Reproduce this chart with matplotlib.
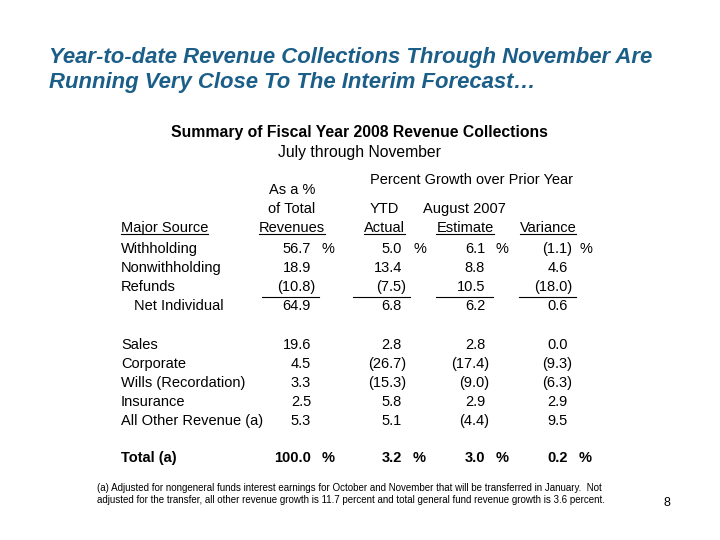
import matplotlib
matplotlib.use("Agg")
import matplotlib.pyplot as plt

plt.rcParams['font.family'] = ['Liberation Sans', 'DejaVu Sans']

# table data
sources = ['Withholding', 'Nonwithholding', 'Refunds', 'Net Individual',
           'Sales', 'Corporate', 'Wills (Recordation)', 'Insurance',
           'All Other Revenue (a)', 'Total (a)']
pct_of_total = [56.7, 18.9, -10.8, 64.9, 19.6, 4.5, 3.3, 2.5, 5.3, 100.0]
ytd_actual = [5.0, 13.4, -7.5, 6.8, 2.8, -26.7, -15.3, 5.8, 5.1, 3.2]
aug_estimate = [6.1, 8.8, 10.5, 6.2, 2.8, -17.4, -9.0, 2.9, -4.4, 3.0]
variance = [-1.1, 4.6, -18.0, 0.6, 0.0, -9.3, -6.3, 2.9, 9.5, 0.2]

title = ("Year-to-date Revenue Collections Through November Are\n"
         "Running Very Close To The Interim Forecast\u2026")
footnote = ("(a) Adjusted for nongeneral funds interest earnings for October and November that will be transferred in January.  Not\n"
            "adjusted for the transfer, all other revenue growth is 11.7 percent and total general fund revenue growth is 3.6 percent.")

fig = plt.figure(figsize=(7.2, 5.4), dpi=100)
ax = fig.add_axes([0, 0, 1, 1])
ax.set_xlim(0, 720)
ax.set_ylim(540, 0)
ax.axis('off')

fs = 10.5
ax.text(49, 70, title, fontsize=15.9, fontweight='bold',
        fontstyle='italic', color='#1b5e88', va='center', ha='left',
        linespacing=1.27)
ax.text(359, 133, 'Summary of Fiscal Year 2008 Revenue Collections',
        fontsize=11.3, fontweight='bold', ha='center', va='center')
ax.text(359, 153, 'July through November', fontsize=11.3, ha='center', va='center')

# headers
ax.text(472, 180, 'Percent Growth over Prior Year', fontsize=fs, ha='center', va='center')
ax.text(292, 190, 'As a %', fontsize=fs, ha='center', va='center')
ax.text(292, 209, 'of Total', fontsize=fs, ha='center', va='center')
ax.text(384, 209, 'YTD', fontsize=fs, ha='center', va='center')
ax.text(464, 209, 'August 2007', fontsize=fs, ha='center', va='center')
underlined = [
    ax.text(121, 228, 'Major Source', fontsize=fs, ha='left', va='center'),
    ax.text(292, 228, 'Revenues', fontsize=fs, ha='center', va='center'),
    ax.text(384, 228, 'Actual', fontsize=fs, ha='center', va='center'),
    ax.text(465, 228, 'Estimate', fontsize=fs, ha='center', va='center'),
    ax.text(548, 228, 'Variance', fontsize=fs, ha='center', va='center'),
]

# rows
row_y = []
y = 249
for i in range(len(sources)):
    row_y.append(y)
    if i == 3:
        y += 39
    elif i == 8:
        y += 37
    else:
        y += 19

columns = [pct_of_total, ytd_actual, aug_estimate, variance]
col_right = [311, 402, 485, 568]
pct_rows = [0, len(sources) - 1]


def fmt(v):
    return '(%.1f)' % abs(v) if v < 0 else '%.1f' % v


for i, name in enumerate(sources):
    bold = 'bold' if i == len(sources) - 1 else 'normal'
    x0 = 134 if name == 'Net Individual' else 121
    ax.text(x0, row_y[i], name, fontsize=fs, fontweight=bold, ha='left', va='center')
    for col, r in zip(columns, col_right):
        v = col[i]
        xr = r + 4 if v < 0 else r
        ax.text(xr, row_y[i], fmt(v), fontsize=fs, fontweight=bold,
                ha='right', va='center')
        if i in pct_rows:
            ax.text(r + 11, row_y[i], '%', fontsize=fs, fontweight=bold,
                    ha='left', va='center')

# subtotal rules under Refunds
for r in col_right:
    ax.plot([r - 49, r + 8], [row_y[2] + 10, row_y[2] + 10], color='black', lw=0.8)

# underline header labels
fig.canvas.draw()
renderer = fig.canvas.get_renderer()
inv = ax.transData.inverted()
for t in underlined:
    bb = t.get_window_extent(renderer)
    (xa, ya), (xb, yb) = inv.transform([[bb.x0, bb.y0], [bb.x1, bb.y1]])
    ax.plot([xa, xb], [ya - 1, ya - 1], color='black', lw=0.8)

ax.text(97, 494, footnote, fontsize=7.0, ha='left', va='center', linespacing=1.17)
ax.text(667, 503, '8', fontsize=9, ha='center', va='center')

fig.savefig('out.png', dpi=100)
